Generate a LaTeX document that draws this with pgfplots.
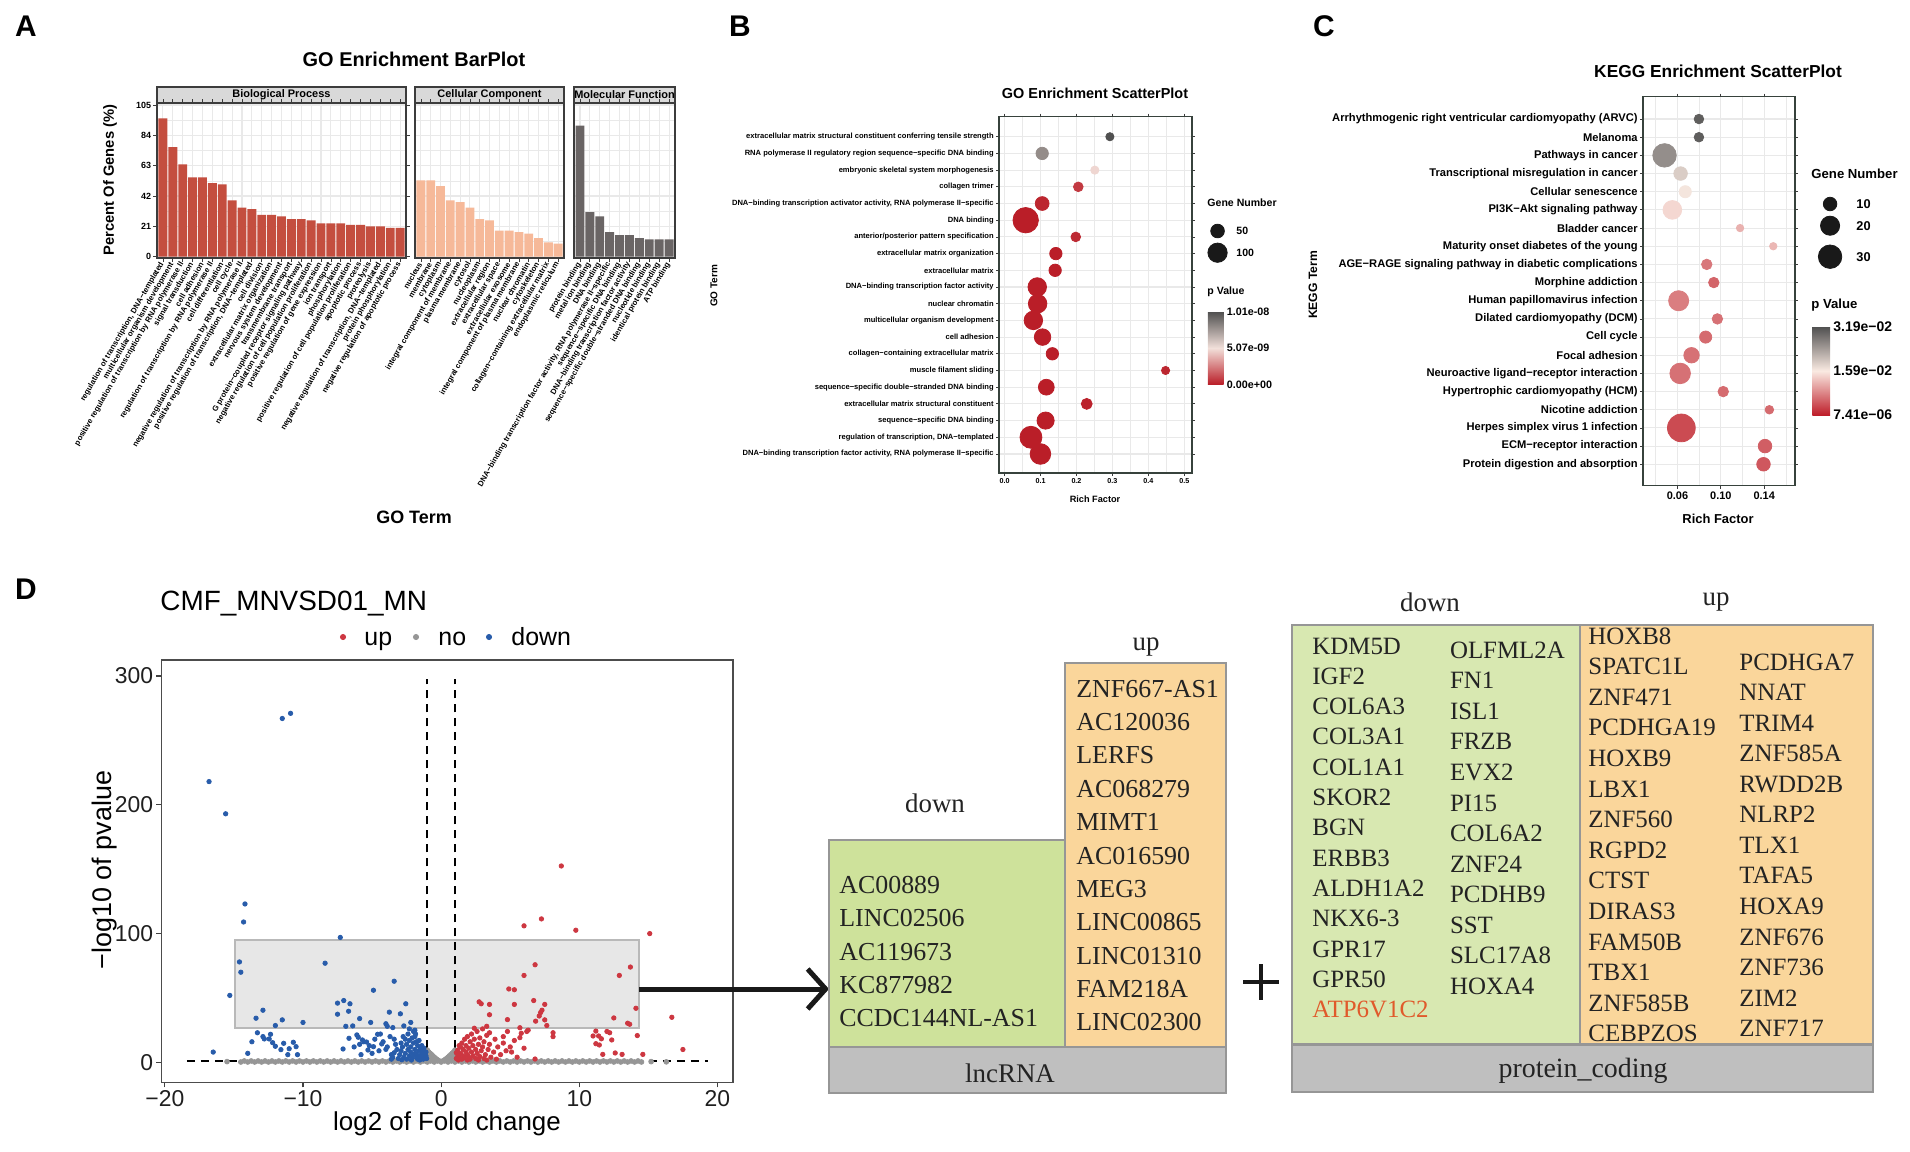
\documentclass[border=0pt]{standalone}
\usepackage{pgfplots}
\pgfplotsset{compat=1.18}
\usepackage{fontspec}
\setmainfont{Liberation Sans}
\newfontfamily\serifx{Liberation Serif}
\usetikzlibrary{arrows.meta,calc}
\newcommand\fs[1]{\fontsize{#1}{#1}\selectfont}
\definecolor{bpc}{RGB}{196,78,63}
\definecolor{ccc}{RGB}{246,185,153}
\definecolor{mfc}{RGB}{106,101,101}
\definecolor{gridc}{RGB}{233,233,233}
\definecolor{framec}{RGB}{60,60,60}
\definecolor{sframe}{RGB}{55,66,60}
\definecolor{stripc}{RGB}{217,217,217}
\definecolor{upred}{RGB}{205,55,65}
\definecolor{downblue}{RGB}{40,92,170}
\definecolor{nogrey}{RGB}{150,150,150}
\definecolor{lgreen}{RGB}{206,226,155}
\definecolor{pgreen}{RGB}{216,232,177}
\definecolor{lorange}{RGB}{250,214,155}
\definecolor{tgrey}{RGB}{191,191,191}
\definecolor{tborder}{RGB}{150,150,150}
\definecolor{tink}{RGB}{35,35,35}
\definecolor{rectf}{RGB}{222,222,222}
\definecolor{rectb}{RGB}{185,185,185}
\definecolor{legk}{RGB}{25,25,25}
\definecolor{atpc}{RGB}{224,90,43}
\pgfplotsset{
  every axis/.append style={/pgf/number format/assume math mode=true},
  pA/.style={scale only axis, height=77.5bp, ymin=-0.9, ymax=106.4, xmin=0.4,
    axis background/.style={fill=white},
    ytick={0,21,42,63,84,105}, minor ytick={10.5,31.5,52.5,73.5,94.5},
    grid=both, major grid style={gridc, line width=0.55bp}, minor grid style={gridc, line width=0.3bp},
    axis line style={framec, line width=0.6bp},
    tick align=outside, major tick length=1.8bp, minor tick length=0pt,
    tick style={framec, line width=0.4bp},
    xticklabel style={rotate=60, anchor=east, font=\bfseries\fs{3.9}, inner sep=0.6bp},
    yticklabel style={font=\bfseries\fs{4.5}, inner sep=1bp},
    ybar, bar width=0.9},
  pS/.style={scale only axis, axis background/.style={fill=white},
    grid=both, major grid style={gridc, line width=0.55bp}, minor grid style={gridc, line width=0.3bp},
    axis line style={sframe, line width=0.7bp},
    tick align=outside, major tick length=1.5bp, minor tick length=0pt,
    tick style={framec, line width=0.4bp}, ytick={1,...,20}},
}
\begin{document}
\begin{tikzpicture}[x=0.5bp,y=-0.5bp]
\path[use as bounding box] (0,0) rectangle (1910,1152);

% ================= Panel A =================
\node[font=\bfseries\fs{15}] at (26,26) {A};
\node[font=\bfseries\fs{10}] at (414,59) {GO Enrichment BarPlot};
\foreach \a/\b/\t in {157/406/Biological Process,415/564/Cellular Component,574/675/Molecular Function}{
  \draw[fill=stripc, draw=framec, line width=0.6bp] (\a,87) rectangle (\b,103);
  \node[font=\bfseries\fs{5.5}] at ({(\a+\b)/2},95) {\t};
}
\begin{axis}[pA, at={(78.5bp,-129bp)}, anchor=south west, width=124.5bp, xmax=25.6,
  xtick={1,...,25}, yticklabels={0,21,42,63,84,105},
  xticklabels={{regulation of transcription, DNA−templated},multicellular organism development,positive regulation of transcription by RNA polymerase II,signal transduction,cell adhesion,regulation of transcription by RNA polymerase II,cell differentiation,cell cycle,negative regulation of transcription by RNA polymerase II,{positive regulation of transcription, DNA−templated},cell division,extracellular matrix organization,nervous system development,transmembrane transport,G protein−coupled receptor signaling pathway,negative regulation of cell population proliferation,positive regulation of gene expression,ion transport,phosphorylation,positive regulation of cell population proliferation,apoptotic process,proteolysis,{negative regulation of transcription, DNA−templated},protein phosphorylation,negative regulation of apoptotic process}]
\addplot[fill=bpc, draw=none] coordinates {(1,95.8) (2,75.9) (3,63.9) (4,54.9) (5,54.9) (6,51) (7,50) (8,39) (9,33.9) (10,33) (11,29) (12,29) (13,27.9) (14,26) (15,26) (16,25.2) (17,23) (18,23) (19,23) (20,22) (21,22) (22,21) (23,21) (24,20) (25,20)};
\end{axis}
\begin{axis}[pA, at={(207.5bp,-129bp)}, anchor=south west, width=74.5bp, xmax=15.6,
  xtick={1,...,15}, yticklabels={}, ytick style={draw=none},
  xticklabels={nucleus,membrane,cytoplasm,integral component of membrane,plasma membrane,cytosol,nucleoplasm,extracellular region,extracellular space,extracellular exosome,integral component of plasma membrane,nuclear chromatin,cytoskeleton,collagen−containing extracellular matrix,endoplasmic reticulum}]
\addplot[fill=ccc, draw=none] coordinates {(1,52.8) (2,52.8) (3,48.9) (4,39) (5,37.8) (6,34) (7,26) (8,25.2) (9,18) (10,18) (11,17) (12,15.9) (13,12.9) (14,9.9) (15,9)};
\end{axis}
\begin{axis}[pA, at={(287bp,-129bp)}, anchor=south west, width=50.5bp, xmax=10.6,
  xtick={1,...,10}, yticklabels={}, ytick style={draw=none},
  xticklabels={protein binding,metal ion binding,DNA binding,{DNA−binding transcription factor activity, RNA polymerase II−specific},sequence−specific DNA binding,DNA−binding transcription factor activity,sequence−specific double−stranded DNA binding,nucleotide binding,identical protein binding,ATP binding}]
\addplot[fill=mfc, draw=none] coordinates {(1,90.7) (2,30.9) (3,27.9) (4,17) (5,15) (6,15) (7,12.9) (8,12) (9,12) (10,12)};
\end{axis}
\node[rotate=90, font=\bfseries\fs{7.4}] at (110,180) {Percent Of Genes (\%)};
\node[font=\bfseries\fs{9}] at (414,517) {GO Term};

% ================= Panel B =================
\node[font=\bfseries\fs{15}] at (740,26) {B};
\node[font=\bfseries\fs{7.25}] at (1095,93) {GO Enrichment ScatterPlot};
\begin{axis}[pS, at={(499.5bp,-236.5bp)}, anchor=south west, width=96.5bp, height=178.15bp,
  xmin=-0.0156, xmax=0.5217, ymin=-0.14, ymax=21.2,
  xtick={0,0.1,0.2,0.3,0.4,0.5}, xticklabels={0.0,0.1,0.2,0.3,0.4,0.5},
  minor xtick={0.05,0.15,0.25,0.35,0.45},
  xticklabel style={font=\bfseries\fs{3.6}, inner sep=1bp},
  yticklabel style={font=\bfseries\fs{3.8}, inner sep=1bp},
  yticklabels={{DNA−binding transcription factor activity, RNA polymerase II−specific},{regulation of transcription, DNA−templated},sequence−specific DNA binding,extracellular matrix structural constituent,sequence−specific double−stranded DNA binding,muscle filament sliding,collagen−containing extracellular matrix,cell adhesion,multicellular organism development,nuclear chromatin,DNA−binding transcription factor activity,extracellular matrix,extracellular matrix organization,anterior/posterior pattern specification,DNA binding,{DNA−binding transcription activator activity, RNA polymerase II−specific},collagen trimer,embryonic skeletal system morphogenesis,RNA polymerase II regulatory region sequence−specific DNA binding,extracellular matrix structural constituent conferring tensile strength},
  colormap={bmap}{rgb255(0cm)=(186,30,40); rgb255(1cm)=(242,224,218); rgb255(2cm)=(80,80,80)},
  point meta min=0, point meta max=10.1,
  colorbar,
  colorbar style={at={($(parent axis.north east)+(-0.65bp,-97.5bp)$)}, anchor=north west,
    scale only axis, width=7.9bp, height=36.3bp,
    ytick={0,5.07,10.1}, yticklabels={0.00e+00,5.07e-09,1.01e-08},
    yticklabel style={font=\bfseries\fs{5.4}, inner sep=1.5bp},
    axis line style={draw=none}, major tick length=0pt, tick style={draw=none}}]
\addplot[scatter, only marks, mark=*, point meta=\thisrow{p},
  scatter/use mapped color={draw=mapped color, fill=mapped color},
  visualization depends on={0.485*sqrt(\thisrow{n})\as\msz},
  scatter/@pre marker code/.append style={/tikz/mark size=\msz}]
  table[x=rf,y=k] {
rf k n p
0.0996 1 114 0
0.0732 2 129 0
0.114 3 79 0
0.2285 4 32 0.1
0.116 5 67 0
0.448 6 18 0.2
0.1328 7 41 0
0.1055 8 73 0
0.080 9 92 0
0.0918 10 92 0
0.0908 11 92 0
0.1406 12 41 0
0.1426 13 41 0
0.198 14 25 0.3
0.0586 15 173 0
0.1045 16 51 0.2
0.205 17 25 0.7
0.251 18 18 4.8
0.1045 19 41 8.0
0.293 20 18 10.1
};
\end{axis}
\node[rotate=90, font=\bfseries\fs{5}] at (714,286) {GO Term};
\node[font=\bfseries\fs{4.6}] at (1095,499) {Rich Factor};
\node[anchor=west, font=\bfseries\fs{5.3}, inner sep=0] at (1207,203) {Gene Number};
\node[anchor=west, font=\bfseries\fs{5.3}, inner sep=0] at (1236,231) {50};
\node[anchor=west, font=\bfseries\fs{5.3}, inner sep=0] at (1236,252.7) {100};
\node[anchor=west, font=\bfseries\fs{5.3}, inner sep=0] at (1207,292) {p Value};

% ================= Panel C =================
\node[font=\bfseries\fs{15}] at (1324,26) {C};
\node[font=\bfseries\fs{8.7}] at (1718,71) {KEGG Enrichment ScatterPlot};
\begin{axis}[pS, at={(821.5bp,-242.85bp)}, anchor=south west, width=76bp, height=194.5bp,
  xmin=0.0283, xmax=0.1684, ymin=-0.18, ymax=21.23,
  xtick={0.06,0.10,0.14}, xticklabels={0.06,0.10,0.14},
  minor xtick={0.04,0.08,0.12,0.16},
  xticklabel style={font=\bfseries\fs{5.5}, inner sep=1.5bp},
  yticklabel style={font=\bfseries\fs{5.6}, inner sep=1bp},
  yticklabels={Protein digestion and absorption,ECM−receptor interaction,Herpes simplex virus 1 infection,Nicotine addiction,Hypertrophic cardiomyopathy (HCM),Neuroactive ligand−receptor interaction,Focal adhesion,Cell cycle,Dilated cardiomyopathy (DCM),Human papillomavirus infection,Morphine addiction,AGE−RAGE signaling pathway in diabetic complications,Maturity onset diabetes of the young,Bladder cancer,PI3K−Akt signaling pathway,Cellular senescence,Transcriptional misregulation in cancer,Pathways in cancer,Melanoma,Arrhythmogenic right ventricular cardiomyopathy (ARVC)},
  colormap={cmap}{rgb255(0cm)=(190,30,42); rgb255(1cm)=(250,234,226); rgb255(2cm)=(80,80,80)},
  point meta min=0.00741, point meta max=31.9,
  colorbar,
  colorbar style={at={($(parent axis.north east)+(0.15bp,-115bp)$)}, anchor=north west,
    scale only axis, width=8.85bp, height=44.15bp,
    ytick={0.00741,15.9,31.9}, yticklabels={7.41e−06,1.59e−02,3.19e−02},
    yticklabel style={font=\bfseries\fs{7}, inner sep=1.5bp},
    axis line style={draw=none}, major tick length=0pt, tick style={draw=none}}]
\addplot[scatter, only marks, mark=*, point meta=\thisrow{p},
  scatter/use mapped color={draw=mapped color, fill=mapped color},
  visualization depends on={1.075*sqrt(\thisrow{n})\as\msz},
  scatter/@pre marker code/.append style={/tikz/mark size=\msz}]
  table[x=rf,y=k] {
rf k n p
0.1393 1 10 4.5
0.1407 2 10 5
0.0636 3 42 3.5
0.1447 4 4 6
0.1022 5 6 6
0.0625 6 23 6.5
0.073 7 13 6.5
0.086 8 8 6
0.0968 9 6 6.5
0.0611 10 22 7.5
0.0935 11 6 5.5
0.087 12 6 7
0.1483 13 3 12
0.1177 14 3 11.5
0.0553 15 19 14.5
0.0672 16 8 16.5
0.0629 17 10 19
0.0481 18 30 25.5
0.0798 19 5 30.5
0.0798 20 5 30.5
};
\end{axis}
\node[rotate=90, font=\bfseries\fs{6.1}] at (1313,285) {KEGG Term};
\node[font=\bfseries\fs{6.5}] at (1718,519) {Rich Factor};
\node[anchor=west, font=\bfseries\fs{6.6}, inner sep=0] at (1811,174) {Gene Number};
\node[anchor=west, font=\bfseries\fs{6.4}, inner sep=0] at (1856,204) {10};
\node[anchor=west, font=\bfseries\fs{6.4}, inner sep=0] at (1856,225.7) {20};
\node[anchor=west, font=\bfseries\fs{6.4}, inner sep=0] at (1856,256.7) {30};
\node[anchor=west, font=\bfseries\fs{6.6}, inner sep=0] at (1811,305) {p Value};

% ================= Panel D: volcano =================
\node[font=\bfseries\fs{15}] at (26,589) {D};
\node[anchor=base west, font=\fs{14}, inner sep=0] at (160,610.7) {CMF\_MNVSD01\_MN};
\begin{axis}[at={(80.7bp,-541.15bp)}, anchor=south west, scale only axis, width=285.8bp, height=211.15bp,
  xmin=-20.25, xmax=21.13, ymin=-15.5, ymax=312.4,
  xtick={-20,-10,0,10,20}, xticklabels={−20,−10,0,10,20},
  ytick={0,100,200,300}, yticklabels={0,100,200,300},
  tick pos=left, tick align=outside, major tick length=2.5bp,
  tick style={black!75, line width=0.6bp},
  axis line style={black!70, line width=0.8bp},
  ticklabel style={font=\fs{11.5}, text=black!88},
  xticklabel style={inner sep=1.5bp}, yticklabel style={inner sep=1.5bp}]
\addplot[only marks, mark=*, mark size=1.2bp, color=nogrey] coordinates {
(-14.5,0.3) (-14,0.3) (-13.5,0.3) (-13,0.3) (-12.5,0.3) (-12,0.3) (-11.5,0.3) (-11,0.3) (-10.5,0.3) (-10,0.3)
(-9.5,0.3) (-9,0.3) (-8.5,0.3) (-8,0.3) (-7.5,0.3) (-7,0.3) (-6.5,0.3) (-6,0.3) (-5.5,0.3) (-5,0.3)
(-4.5,0.3) (-4,0.3) (-3.5,0.3) (-3,0.3) (-2.5,0.3) (-2,0.3) (-1.5,0.3) (-1,0.3) (-0.5,0.3) (0,0.3)
(0.5,0.3) (1,0.3) (1.5,0.3) (2,0.3) (2.5,0.3) (3,0.3) (3.5,0.3) (4,0.3) (4.5,0.3) (5,0.3)
(5.5,0.3) (6,0.3) (6.5,0.3) (7,0.3) (7.5,0.3) (8,0.3) (8.5,0.3) (9,0.3) (9.5,0.3) (10,0.3)
(10.5,0.3) (11,0.3) (11.5,0.3) (12,0.3) (12.5,0.3) (13,0.3) (13.5,0.3) (14,0.3) (14.5,0.3)
(-14.25,1.1) (-13.75,1.1) (-13.25,1.1) (-12.75,1.1) (-12.25,1.1) (-11.75,1.1) (-11.25,1.1) (-10.75,1.1) (-10.25,1.1) (-9.75,1.1)
(-9.25,1.1) (-8.75,1.1) (-8.25,1.1) (-7.75,1.1) (-7.25,1.1) (-6.75,1.1) (-6.25,1.1) (-5.75,1.1) (-5.25,1.1) (-4.75,1.1)
(-4.25,1.1) (-3.75,1.1) (-3.25,1.1) (-2.75,1.1) (-2.25,1.1) (-1.75,1.1) (-1.25,1.1) (-0.75,1.1) (-0.25,1.1) (0.25,1.1)
(0.75,1.1) (1.25,1.1) (1.75,1.1) (2.25,1.1) (2.75,1.1) (3.25,1.1) (3.75,1.1) (4.25,1.1) (4.75,1.1) (5.25,1.1)
(5.75,1.1) (6.25,1.1) (6.75,1.1) (7.25,1.1) (7.75,1.1) (8.25,1.1) (8.75,1.1) (9.25,1.1) (9.75,1.1) (10.25,1.1)
(10.75,1.1) (11.25,1.1) (11.75,1.1) (12.25,1.1) (12.75,1.1) (13.25,1.1) (13.75,1.1) (14.25,1.1)
(-15.5,0.6) (15.2,0.6) (16.3,0.4)
(-1,9.5) (-1,7) (-1,4.5) (-0.9,8) (-0.9,5) (-0.8,7) (-0.8,4) (-0.7,6) (-0.7,3) (-0.6,5) (-0.6,2.5)
(-0.5,4) (-0.5,2) (-0.4,3) (-0.3,2.2) (-0.2,1.5) (0,0.8) (0.2,1.5) (0.3,2.2) (0.4,3) (0.5,4) (0.5,2)
(0.6,5) (0.6,2.5) (0.7,6) (0.7,3) (0.8,7) (0.8,4) (0.9,8) (0.9,5) (1,9.5) (1,7) (1,4.5)
};
\addplot[only marks, mark=*, mark size=1.1bp, color=downblue] coordinates {
(-11.5,267) (-10.9,271) (-16.8,218) (-15.6,193)
(-14.2,123) (-14.3,109) (-7.3,97) (-14.6,78) (-14.5,70) (-8.4,77) (-15.3,52) (-3.4,63) (-4.9,56)
(-12.9,40.5) (-13.4,34.3) (-11.5,33) (-12.0,28.6) (-10.0,31) (-7.5,46) (-7.05,48) (-6.6,45.5) (-7.5,37.4) (-6.7,39.7) (-6.9,28) (-6.4,28.3) (-5.9,34) (-5.1,31) (-3.75,39) (-2.95,37.7) (-2.56,45.5) (-4.0,30) (-3.9,28) (-3.5,27) (-2.7,28.3) (-2.2,31) (-1.9,25)
(-13.7,16) (-12.35,21.8) (-12.45,18.2) (-12.8,18.2) (-12.2,15.3) (-12.0,12.5) (-11.6,9.9) (-11.1,6) (-10.7,15.6) (-10.5,12.2) (-10.4,6) (-14.0,7) (-16.5,8) (-12.9,20) (-13.3,23) (-11.4,14.8) (-11.0,10.6)
(-6.67,18.7) (-6.1,21.3) (-5.7,17.4) (-5.9,14) (-5.4,15.8) (-4.6,21.8) (-4.9,12.2) (-5.8,6) (-7.1,10.4) (-4.3,14.3) (-5.3,9.6) (-4.0,10.1) (-3.4,7.5) (-6.0,19.5) (-5.6,16) (-5.2,13) (-4.8,18) (-4.5,9) (-4.2,16) (-3.9,12) (-3.7,20) (-3.6,6) (-5.0,7) (-6.3,12) (-4.4,22)
(-3.1,3) (-3.0,6) (-2.9,9) (-2.8,12) (-2.7,4) (-2.6,7) (-2.5,14) (-2.5,2.5) (-2.4,10) (-2.3,5) (-2.3,17) (-2.2,8) (-2.2,12) (-2.1,3) (-2.0,6) (-2.0,15) (-1.9,10) (-1.9,20) (-1.8,4) (-1.8,7) (-1.7,13) (-1.7,2.5) (-1.6,9) (-1.6,5) (-1.5,11) (-1.5,3) (-1.4,7) (-1.4,4.5) (-1.3,9) (-1.3,2.5) (-1.2,6) (-1.2,3.5) (-1.1,5) (-1.1,8) (-2.6,18) (-2.4,22) (-2.1,19) (-1.8,16) (-2.9,15) (-3.2,10) (-3.3,14) (-3.5,4) (-3.4,18) (-2.75,20) (-2.0,24) (-1.6,17) (-1.4,13) (-2.3,26) (-1.85,22) (-2.15,1.8) (-1.55,1.8) (-2.85,2) (-3.6,2.5) (-1.25,11) (-1.05,3)
};
\addplot[only marks, mark=*, mark size=1.1bp, color=upred] coordinates {
(8.7,152.5) (6.0,106) (7.26,111.4) (9.75,102.6) (15.1,100) (6.8,75.8) (13.7,74) (6.0,67.5) (12.9,67.5) (4.9,57) (5.3,56.4) (2.9,45.5) (2.75,47) (3.5,45) (5.3,45) (6.7,48) (7.5,45) (3.5,37) (4.8,33.2) (7.2,38.7) (7.1,36) (7.5,33) (7.65,28.6) (6.84,32) (14.1,42) (12.5,34.5) (13.5,30.4) (13.65,29.6) (16.7,35) (6.3,25) (5.8,22.6) (5.7,19.2) (8.1,20) (11.0,20.5) (11.4,20.5) (11.2,14.5) (11.45,13.5) (12.0,24) (12.2,23) (12.35,17.4) (14.2,20.8) (11.7,6.2) (12.6,7.3) (13.1,6.2) (14.6,6.2) (17.5,10) (6.8,2.6) (7.3,40.5) (5.7,26.9) (6.2,24) (8.1,23) (11.2,24.3) (11.6,18.3) (4.5,20) (4.8,24) (3.3,28) (5.1,8) (6.0,11)
(1.1,3) (1.2,6) (1.2,9.5) (1.3,4) (1.4,12) (1.4,7) (1.5,2.5) (1.5,15) (1.6,5) (1.6,10) (1.7,18) (1.7,3.5) (1.8,8) (1.8,13) (1.9,6) (1.9,20) (2.0,4) (2.0,11) (2.1,16) (2.1,2.5) (2.2,8) (2.2,22) (2.3,13) (2.3,5) (2.4,18) (2.5,10) (2.5,3) (2.6,7) (2.6,24) (2.7,14) (2.8,4.5) (2.8,19) (2.9,9) (3.0,26) (3.0,12) (3.1,3) (3.1,16) (3.2,6) (3.3,21) (3.4,10) (3.5,14) (3.6,4) (3.8,8) (3.9,18) (4.1,12) (4.3,6) (4.5,15) (4.7,9) (5.0,12) (5.3,17) (5.5,4) (1.3,13) (1.1,7.5) (2.4,26.5) (3.5,23) (4.0,2.5) (1.25,1.8) (1.9,1.8) (2.7,1.8) (3.3,1.8)
};
\draw[draw=rectb, line width=1bp, fill=rectf, fill opacity=0.72] (axis cs:-14.9,26.5) rectangle (axis cs:14.3,95.3);
\addplot[black, line width=1bp, dash pattern=on 4bp off 3bp] coordinates {(-18.4,1.3) (19.3,1.3)};
\addplot[black, line width=1bp, dash pattern=on 4bp off 3bp] coordinates {(-1,0) (-1,298)};
\addplot[black, line width=1bp, dash pattern=on 4bp off 3bp] coordinates {(1,0) (1,298)};
\end{axis}
\node[rotate=90, font=\fs{13.5}] at (105,870) {−log10 of pvalue};
\node[anchor=base, font=\fs{13}] at (447,1130) {log2 of Fold change};
\node[anchor=base west, font=\fs{12.5}, inner sep=0] at (364,645) {up};
\node[anchor=base west, font=\fs{12.5}, inner sep=0] at (438,645) {no};
\node[anchor=base west, font=\fs{12.5}, inner sep=0] at (511,645) {down};

% ================= overlay axis for legend keys (pixel coordinates) =================
\begin{axis}[at={(0bp,-576bp)}, anchor=south west, scale only axis, width=955bp, height=576bp,
  xmin=0, xmax=1910, ymin=0, ymax=1152, y dir=reverse, hide axis, clip=false,
  point meta min=0, point meta max=1]
\addplot[scatter, only marks, mark=*, point meta=0,
  scatter/use mapped color={draw=legk, fill=legk},
  visualization depends on={0.485*sqrt(\thisrow{n})\as\msz},
  scatter/@pre marker code/.append style={/tikz/mark size=\msz}]
  table[x=x,y=y] {
x y n
1217.5 231 50
1217.5 252.7 100
};
\addplot[scatter, only marks, mark=*, point meta=0,
  scatter/use mapped color={draw=legk, fill=legk},
  visualization depends on={1.075*sqrt(\thisrow{n})\as\msz},
  scatter/@pre marker code/.append style={/tikz/mark size=\msz}]
  table[x=x,y=y] {
x y n
1830 204 10
1830 225.7 20
1830 256.7 30
};
\addplot[only marks, mark=*, mark size=1.3bp, color=upred] coordinates {(343,637)};
\addplot[only marks, mark=*, mark size=1.3bp, color=nogrey] coordinates {(416,637)};
\addplot[only marks, mark=*, mark size=1.3bp, color=downblue] coordinates {(489,637)};
\end{axis}

% ================= arrow =================
\draw[line width=2.5bp, color=black!90, -{Straight Barb[length=9bp, width=20bp]}] (639,989) -- (829,989);

% ================= lncRNA table =================
\draw[fill=lgreen, draw=tborder, line width=1bp] (829,840) rectangle (1065,1047);
\draw[fill=lorange, draw=tborder, line width=1bp] (1065,663) rectangle (1226,1047);
\draw[fill=tgrey, draw=tborder, line width=1bp] (829,1047) rectangle (1226,1093);
\node[font=\serifx\fs{13.5}, text=tink] at (935,803) {down};
\node[font=\serifx\fs{13.5}, text=tink] at (1146,647) {up};
\node[anchor=base, font=\serifx\fs{13.5}, text=tink] at (1010,1082) {lncRNA};
\foreach \t [count=\i from 0] in {AC00889,LINC02506,AC119673,KC877982,CCDC144NL-AS1}
  \node[anchor=base west, inner sep=0, font=\serifx\fs{13}, text=tink] at (839,{893.3+33.4*\i}) {\t};
\foreach \t [count=\i from 0] in {ZNF667-AS1,AC120036,LERFS,AC068279,MIMT1,AC016590,MEG3,LINC00865,LINC01310,FAM218A,LINC02300}
  \node[anchor=base west, inner sep=0, font=\serifx\fs{13}, text=tink] at (1076,{697.3+33.34*\i}) {\t};

% plus sign
\draw[line width=2bp, color=black!90] (1243,982) -- (1279,982) (1261,964) -- (1261,1000);

% ================= protein coding table =================
\draw[fill=pgreen, draw=tborder, line width=1.2bp] (1292,625) rectangle (1580,1044);
\draw[fill=lorange, draw=tborder, line width=1.2bp] (1580,625) rectangle (1873,1044);
\draw[fill=tgrey, draw=tborder, line width=1.2bp] (1292,1045) rectangle (1873,1092);
\node[font=\serifx\fs{13.5}, text=tink] at (1430,602) {down};
\node[font=\serifx\fs{13.5}, text=tink] at (1716,602) {up};
\node[anchor=base, font=\serifx\fs{14}, text=tink] at (1583,1077) {protein\_coding};
\foreach \t [count=\i from 0] in {KDM5D,IGF2,COL6A3,COL3A1,COL1A1,SKOR2,BGN,ERBB3,ALDH1A2,NKX6-3,GPR17,GPR50}
  \node[anchor=base west, inner sep=0, font=\serifx\fs{12.5}, text=tink] at (1312,{654+30.3*\i}) {\t};
\node[anchor=base west, inner sep=0, font=\serifx\fs{12.5}, text=atpc] at (1312,1017.7) {ATP6V1C2};
\foreach \t [count=\i from 0] in {OLFML2A,FN1,ISL1,FRZB,EVX2,PI15,COL6A2,ZNF24,PCDHB9,SST,SLC17A8,HOXA4}
  \node[anchor=base west, inner sep=0, font=\serifx\fs{12.5}, text=tink] at (1449.6,{658.3+30.55*\i}) {\t};
\foreach \t [count=\i from 0] in {HOXB8,SPATC1L,ZNF471,PCDHGA19,HOXB9,LBX1,ZNF560,RGPD2,CTST,DIRAS3,FAM50B,TBX1,ZNF585B,CEBPZOS}
  \node[anchor=base west, inner sep=0, font=\serifx\fs{12.5}, text=tink] at (1588,{644+30.6*\i}) {\t};
\foreach \t [count=\i from 0] in {PCDHGA7,NNAT,TRIM4,ZNF585A,RWDD2B,NLRP2,TLX1,TAFA5,HOXA9,ZNF676,ZNF736,ZIM2,ZNF717}
  \node[anchor=base west, inner sep=0, font=\serifx\fs{12.5}, text=tink] at (1739,{670+30.56*\i}) {\t};
\end{tikzpicture}
\end{document}
